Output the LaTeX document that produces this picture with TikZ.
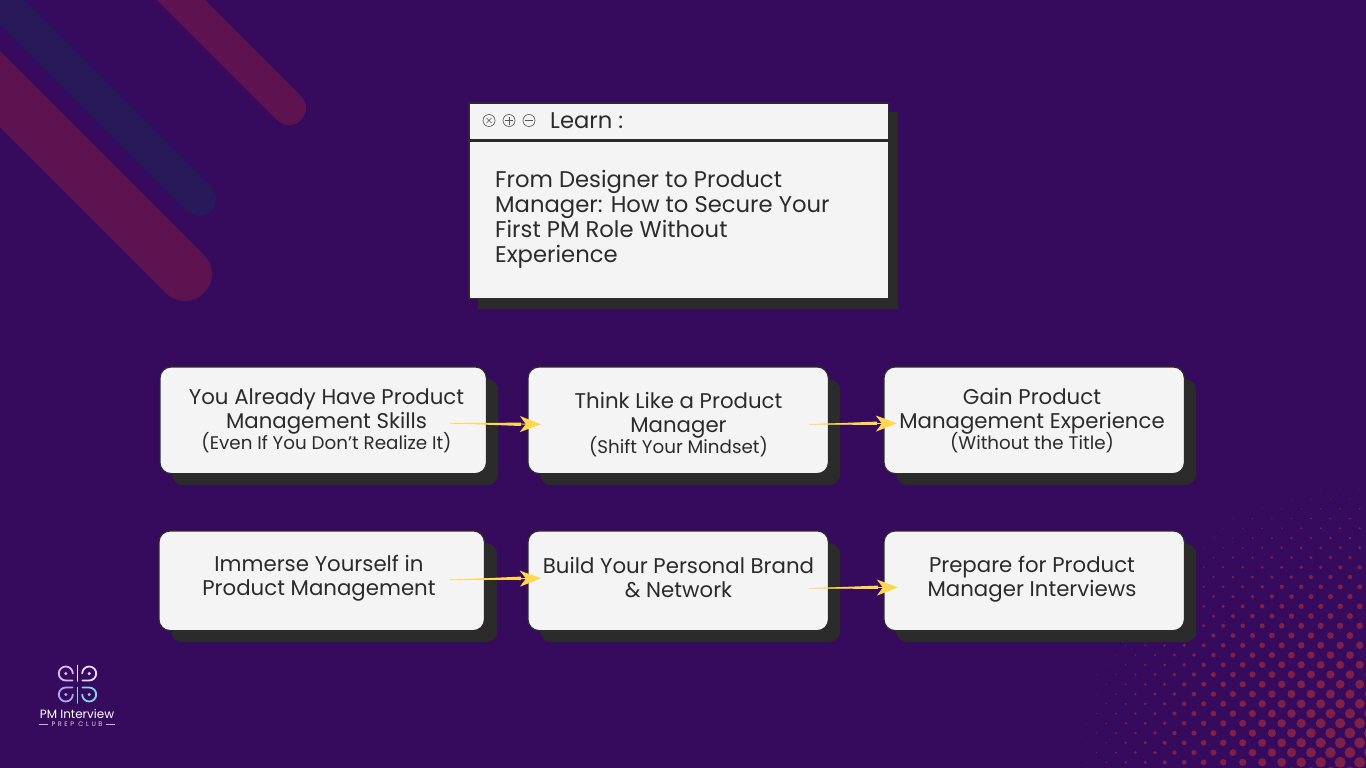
\documentclass[tikz,border=0pt]{standalone}
\usepackage{fontspec}
\setmainfont{Poppins}
\usetikzlibrary{arrows.meta,calc}
\definecolor{bg}{HTML}{360B5D}
\definecolor{stripered}{HTML}{5C1350}
\definecolor{stripeblue}{HTML}{28195A}
\definecolor{dotred}{HTML}{7E2048}
\definecolor{card}{HTML}{F4F4F4}
\definecolor{ink}{HTML}{2B2B2B}
\definecolor{yel}{HTML}{FFD84D}
\tikzset{
  x=1pt,y=-1pt,
  stripe/.style={line cap=round},
  cardbox/.style={draw=ink,line width=1.2pt,fill=card,rounded corners=11pt,inner sep=0pt,anchor=north west},
  shadowbox/.style={fill=ink,rounded corners=11pt,inner sep=0pt,anchor=north west},
  winbox/.style={draw=ink,line width=1.5pt,fill=card,inner sep=0pt,anchor=north west},
  wintext/.style={font=\fontsize{22.7}{25}\selectfont,text=ink,align=left,anchor=north west,inner sep=0pt},
  cardtext/.style={font=\fontsize{21.3}{24}\selectfont,text=ink,align=center,inner sep=0pt},
  btn/.style={draw=ink!80,line width=0.6pt,circle,minimum size=12pt,inner sep=0pt},
  yconn/.style={draw=yel,line width=0.8pt,-{Stealth[length=21pt,width=16pt,inset=6pt,fill=yel]}},
  logoA/.style={draw=#1,line width=1.8pt,line cap=round},
}
\newcommand{\subline}[1]{\\[-3pt]{\fontsize{18.3}{18}\selectfont #1}}
\newcommand{\yarrow}[2]{%
  \fill[yel] (#1) -- ($(#2)+(-20,-1.7)$) -- ($(#2)+(-20,1.7)$) -- cycle;
  \draw[yconn] (#1) -- (#2);}
\begin{document}
\begin{tikzpicture}
\path[use as bounding box,fill=bg] (0,0) rectangle (1366,768);
% stripes
\begin{scope}
\clip (0,0) rectangle (1366,768);
\draw[stripe,stripered,line width=54pt] (185,274) -- (-30,59);
\draw[stripe,stripeblue,line width=34pt] (199,199) -- (-20,-20);
\draw[stripe,stripered,line width=34pt] (289,108) -- (150,-31);
% halftone
\foreach \i in {-30,...,1}{
  \foreach \j in {-17,...,14}{
    \pgfmathsetmacro{\cx}{1359.7+9.75*\i}
    \pgfmathsetmacro{\cy}{645.3+9.75*(2*\j+mod(\i+100,2))}
    \pgfmathsetmacro{\dd}{100*sqrt(((1366-\cx)/100)^2+((768-\cy)/100)^2)}
    \pgfmathsetmacro{\rr}{min(5.5,6.2*(1-\dd/300))}
    \pgfmathparse{\rr>0.3?1:0}
    \ifnum\pgfmathresult=1
      \fill[dotred] (\cx,\cy) circle[radius=\rr pt];
    \fi
  }
}
\end{scope}
% window
\node[shadowbox,rounded corners=0pt,minimum width=420pt,minimum height=197pt] (winshadow) at (478,112) {};
\node[winbox,minimum width=419.5pt,minimum height=195.5pt] (win) at (468.3,102.3) {};
\coordinate (sepL) at (469,140.5);
\coordinate (sepR) at (888,140.5);
\draw[ink,line width=3pt] (sepL) -- (sepR);
\node[btn] (bx) at (489,120.5) {};
\node[btn] (bp) at (509,120.5) {};
\node[btn] (bm) at (529,120.5) {};
\draw[ink!80,line width=0.6pt] (486.5,118) -- (491.5,123) (486.5,123) -- (491.5,118);
\draw[ink!80,line width=0.6pt] (505,120.5) -- (513,120.5) (509,116.5) -- (509,124.5);
\draw[ink!80,line width=0.6pt] (525,120.5) -- (533,120.5);
\node[wintext,anchor=base west] (wtitle) at (550,128.5) {Learn :};
\node[wintext,anchor=north west] (wbody) at (495,170) {From Designer to Product\\Manager: How to Secure Your\\First PM Role Without\\Experience};
% card shadows
\node[shadowbox,minimum width=326pt,minimum height=106pt] (s1) at (172,379) {};
\node[shadowbox,minimum width=300pt,minimum height=106pt] (s2) at (540,379) {};
\node[shadowbox,minimum width=300pt,minimum height=106pt] (s3) at (896,379) {};
\node[shadowbox,minimum width=326pt,minimum height=99pt] (s4) at (171,543) {};
\node[shadowbox,minimum width=300pt,minimum height=99pt] (s5) at (540,543) {};
\node[shadowbox,minimum width=300pt,minimum height=99pt] (s6) at (896,543) {};
% cards
\node[cardbox,minimum width=326.4pt,minimum height=106.6pt] (b1) at (159.4,366.4) {};
\node[cardbox,minimum width=300.4pt,minimum height=106.6pt] (b2) at (527.4,366.4) {};
\node[cardbox,minimum width=300.4pt,minimum height=106.6pt] (b3) at (883.4,366.4) {};
\node[cardbox,minimum width=325.4pt,minimum height=99.6pt] (b4) at (158.4,530.4) {};
\node[cardbox,minimum width=300.4pt,minimum height=99.6pt] (b5) at (527.4,530.4) {};
\node[cardbox,minimum width=300.4pt,minimum height=99.6pt] (b6) at (883.4,530.4) {};
% card text
\node[cardtext] (t1) at (326.5,420.8) {You Already Have Product\\Management Skills\subline{(Even If You Don’t Realize It)}};
\node[cardtext] (t2) at (678.5,424.5) {Think Like a Product\\Manager\subline{(Shift Your Mindset)}};
\node[cardtext] (t3) at (1032,420.5) {Gain Product\\Management Experience\subline{(Without the Title)}};
\node[cardtext] (t4) at (319,578.5) {Immerse Yourself in\\Product Management};
\node[cardtext] (t5) at (678.5,577.5) {Build Your Personal Brand\\\& Network};
\node[cardtext] (t6) at (1032,579.5) {Prepare for Product\\Manager Interviews};
% connectors
\coordinate (a1s) at ($(b1.east)+(-37,3)$);
\coordinate (a1e) at ($(b2.west)+(13.5,4)$);
\coordinate (a2s) at ($(b2.east)+(-20,4)$);
\coordinate (a2e) at ($(b3.west)+(13.5,3)$);
\coordinate (a3s) at ($(b4.east)+(-35,-1)$);
\coordinate (a3e) at ($(b5.west)+(13.5,-2.5)$);
\coordinate (a4s) at ($(b5.east)+(-20,7.5)$);
\coordinate (a4e) at ($(b6.west)+(14.5,6.5)$);
\yarrow{a1s}{a1e}
\yarrow{a2s}{a2e}
\yarrow{a3s}{a3e}
\yarrow{a4s}{a4e}
% logo
\definecolor{la}{HTML}{D9B8F5}
\definecolor{lb}{HTML}{EBDCFF}
\definecolor{lc}{HTML}{A8A8F5}
\definecolor{ld}{HTML}{86D2F2}
\draw[logoA=la] (72.5,680.5) -- (65.8,680.5) arc[start angle=90,end angle=360,radius=7];
\draw[logoA=lb] (82.5,680.5) -- (89.2,680.5) arc[start angle=90,end angle=-180,radius=7];
\draw[logoA=lb] (77.5,665.5) -- (77.5,681);
\fill[la] (65.8,673.5) circle[radius=1.7pt];
\fill[lb] (89.2,673.5) circle[radius=1.7pt];
\draw[logoA=lc] (72.5,687.5) -- (65.8,687.5) arc[start angle=270,end angle=0,radius=7];
\draw[logoA=ld] (82.5,687.5) -- (89.2,687.5) arc[start angle=-90,end angle=180,radius=7];
\draw[logoA=ld] (77.5,687.5) -- (77.5,703);
\fill[lc] (65.8,694.5) circle[radius=1.7pt];
\fill[ld] (89.2,694.5) circle[radius=1.7pt];
\node[inner sep=0pt,text=white,font=\fontsize{12}{12}\selectfont] (logot) at (77,713.5) {PM Interview};
\node[inner sep=0pt,text=white!85!bg,font=\fontsize{6.5}{7}\selectfont\addfontfeature{LetterSpace=40}] (logos) at (77,724) {PREP CLUB};
\coordinate (d1a) at (39,724); \coordinate (d1b) at (48,724);
\coordinate (d2a) at (106,724); \coordinate (d2b) at (115,724);
\draw[white!70!bg,line width=0.7pt] (d1a) -- (d1b) (d2a) -- (d2b);
\end{tikzpicture}
\end{document}
